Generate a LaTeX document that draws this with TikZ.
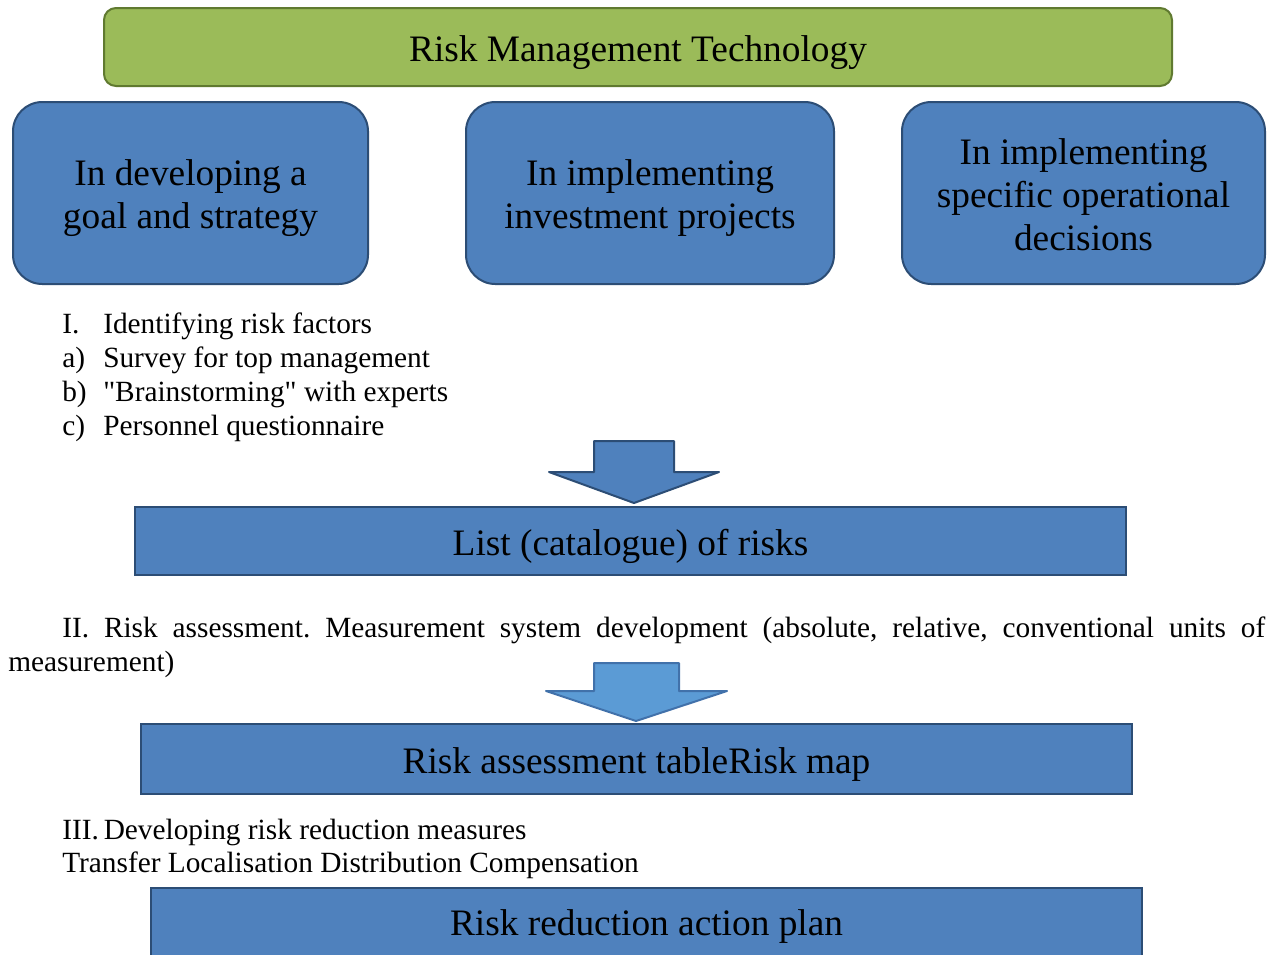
\documentclass[tikz,border=0pt]{standalone}
\usepackage{fontspec}
\setmainfont{Liberation Serif}
\usepackage{tikz}

\definecolor{boxblue}{RGB}{79,129,189}
\definecolor{boxblueline}{RGB}{44,77,117}
\definecolor{boxgreen}{RGB}{155,187,89}
\definecolor{boxgreenline}{RGB}{96,122,48}
\definecolor{arrowlight}{RGB}{91,155,213}
\definecolor{arrowlightline}{RGB}{65,113,170}

\newcommand{\dropline}[1]{\rule{0pt}{#1}}

\tikzset{
  bigtext/.style={font=\fontsize{28}{32.25}\selectfont},
  smalltext/.style={font=\fontsize{22}{25.5}\selectfont\frenchspacing, inner sep=0pt},
  greenbox/.style={bigtext, draw=boxgreenline, fill=boxgreen, line width=1.5pt, rounded corners=9pt, text height=27pt, text depth=6pt},
  roundbox/.style={bigtext, draw=boxblueline, fill=boxblue, line width=1.5pt, rounded corners=22pt, align=center},
  bandbox/.style={bigtext, draw=boxblueline, fill=boxblue, line width=1.5pt, text height=27pt, text depth=6pt},
}

\begin{document}
\begin{tikzpicture}[x=0.75pt,y=0.75pt,yscale=-1,xscale=1]
\clip (0,0) rectangle (1271,954);
\fill[white] (0,0) rectangle (1271,954);

%Shape: Rectangle [id:title]
\node[greenbox, minimum width=801pt, minimum height=58.5pt] (rmt) at (638,47) {Risk Management Technology};

%Shape: Rounded Rect [id:goal]
\node[roundbox, minimum width=266.25pt, minimum height=136.5pt] (goal) at (190.5,193) {\dropline{27pt}In developing a\\goal and strategy};
%Shape: Rounded Rect [id:invest]
\node[roundbox, minimum width=276pt, minimum height=136.5pt] (invest) at (650,193) {\dropline{27pt}In implementing\\investment projects};
%Shape: Rounded Rect [id:oper]
\node[roundbox, minimum width=272.25pt, minimum height=136.5pt] (oper) at (1083.5,193) {\dropline{22.5pt}In implementing\\specific operational\\decisions};

% Text Node
\node[smalltext, anchor=base west] (lI) at (62,333) {I.};
\node[smalltext, anchor=base west] (tI) at (103,333) {Identifying risk factors};
\node[smalltext, anchor=base west] (la) at (62,367) {a)};
\node[smalltext, anchor=base west] (ta) at (103,367) {Survey for top management};
\node[smalltext, anchor=base west] (lb) at (62,401) {b)};
\node[smalltext, anchor=base west] (tb) at (103,401) {\textquotedbl Brainstorming\textquotedbl{} with experts};
\node[smalltext, anchor=base west] (lc) at (62,435) {c)};
\node[smalltext, anchor=base west] (tc) at (103,435) {Personnel questionnaire};

%Shape: Down Arrow [id:arrowone]
\draw[draw=boxblueline, fill=boxblue, line width=1.5pt, line join=round] (594,441) -- (674,441) -- (674,472) -- (719,472) -- (634,503) -- (549,472) -- (594,472) -- cycle;

%Shape: Rectangle [id:catalogue]
\node[bandbox, minimum width=743.25pt, minimum height=51pt] (catalogue) at (630.5,541) {List (catalogue) of risks};

% Text Node
\node[smalltext, anchor=north west, text width=942.75pt, align=justify] (assess) at (8,617) {\hspace*{40.5pt}II. Risk assessment. Measurement system development (absolute, relative, conventional units of\linebreak measurement)};

%Shape: Down Arrow [id:arrowtwo]
\draw[draw=arrowlightline, fill=arrowlight, line width=1.5pt, line join=round] (594,663) -- (679,663) -- (679,691) -- (727,691) -- (636,721) -- (546,691) -- (594,691) -- cycle;

%Shape: Rectangle [id:riskmap]
\node[bandbox, minimum width=743.25pt, minimum height=52.5pt] (riskmap) at (636.5,759) {Risk assessment tableRisk map};

% Text Node
\node[smalltext, anchor=base west] (reduce) at (62,839) {III.\,Developing risk reduction measures};
\node[smalltext, anchor=base west] (methods) at (62,872) {Transfer Localisation Distribution Compensation};

%Shape: Rectangle [id:plan]
\node[bandbox, minimum width=743.25pt, minimum height=52.5pt, text height=24pt] (plan) at (646.5,923) {Risk reduction action plan};
\end{tikzpicture}
\end{document}
